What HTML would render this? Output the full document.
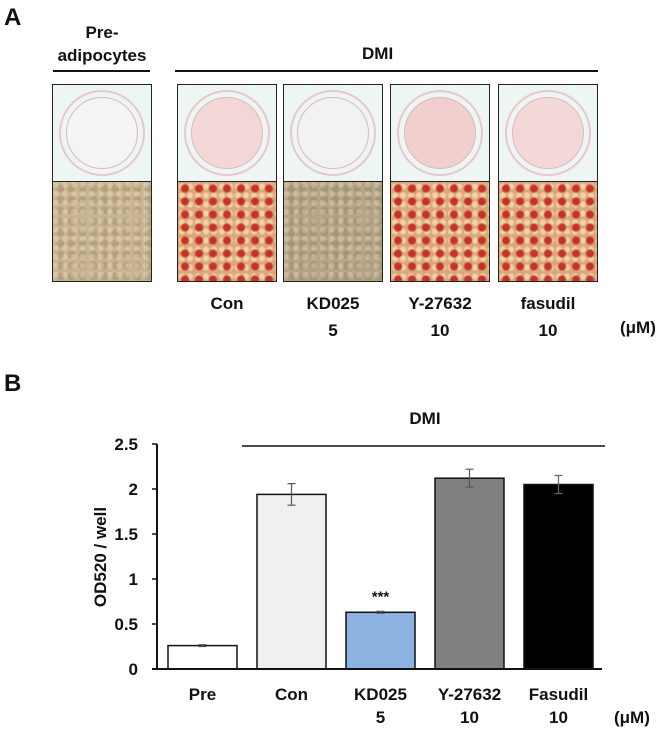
<!DOCTYPE html>
<html><head><meta charset="utf-8"><style>
body{margin:0;width:666px;height:731px;background:#fff;font-family:"Liberation Sans",Arial,sans-serif;font-weight:bold;position:relative;overflow:hidden}
.t{position:absolute;color:#111;white-space:nowrap}
.ph{position:absolute;border:1.5px solid #222;box-sizing:border-box}
.top{background:#eef5f5}
.top .dish{position:absolute;left:6px;top:5px;right:6px;bottom:5px;border-radius:50%;border:2px solid #e8c8c8;box-sizing:border-box}
.top .in{position:absolute;left:13px;top:12px;right:13px;bottom:12px;border-radius:50%;border:1px solid #dcb8b8}
.bot{background:#c9b48e;background-image:radial-gradient(circle at 30% 30%,rgba(255,255,255,.25) 2px,transparent 4px),radial-gradient(circle at 70% 60%,rgba(120,100,70,.25) 3px,transparent 5px);background-size:9px 9px,11px 11px}
.red{background-color:#d9a77a;background-image:radial-gradient(circle,#c83224 3px,transparent 5px),radial-gradient(circle,rgba(255,240,200,.6) 2px,transparent 4px);background-size:14px 13px,8px 9px}
</style></head><body>
<div class="t" style="left:4px;top:4px;font-size:24px">A</div>
<div class="t" style="left:52px;top:21px;width:100px;text-align:center;font-size:17px;line-height:23px">Pre-<br>adipocytes</div>
<div style="position:absolute;left:53px;top:70px;width:97px;height:2px;background:#111"></div>
<div class="t" style="left:362px;top:44px;font-size:17px">DMI</div>
<div style="position:absolute;left:175px;top:70px;width:423px;height:2px;background:#111"></div>

<div class="ph top" style="left:52px;top:84px;width:100px;height:98px"><div class="dish"></div><div class="in" style="background:#f4f3f5"></div></div>
<div class="ph top" style="left:177px;top:84px;width:100px;height:98px"><div class="dish"></div><div class="in" style="background:#f3d6d6"></div></div>
<div class="ph top" style="left:283px;top:84px;width:100px;height:98px"><div class="dish"></div><div class="in" style="background:#f2f2f2"></div></div>
<div class="ph top" style="left:390px;top:84px;width:100px;height:98px"><div class="dish"></div><div class="in" style="background:#f1cfcf"></div></div>
<div class="ph top" style="left:498px;top:84px;width:100px;height:98px"><div class="dish"></div><div class="in" style="background:#f3d8d8"></div></div>

<div class="ph bot" style="left:52px;top:181px;width:100px;height:101px"></div>
<div class="ph red" style="left:177px;top:181px;width:100px;height:101px"></div>
<div class="ph bot" style="left:283px;top:181px;width:100px;height:101px;background-color:#b8a585"></div>
<div class="ph red" style="left:390px;top:181px;width:100px;height:101px"></div>
<div class="ph red" style="left:498px;top:181px;width:100px;height:101px"></div>

<div class="t" style="left:177px;top:290px;width:100px;text-align:center;font-size:17px;line-height:27px">Con</div>
<div class="t" style="left:283px;top:290px;width:100px;text-align:center;font-size:17px;line-height:27px">KD025<br>5</div>
<div class="t" style="left:390px;top:290px;width:100px;text-align:center;font-size:17px;line-height:27px">Y-27632<br>10</div>
<div class="t" style="left:498px;top:290px;width:100px;text-align:center;font-size:17px;line-height:27px">fasudil<br>10</div>
<div class="t" style="left:620px;top:318px;font-size:17px">(μM)</div>

<div class="t" style="left:4px;top:370px;font-size:24px">B</div>
<svg id="chart" width="666" height="731" style="position:absolute;left:0;top:0"></svg>
<script>
const categories=["Pre","Con","KD025","Y-27632","Fasudil"];
const doses=["","","5","10","10"];
const values=[0.26,1.94,0.63,2.12,2.05];
const errors=[0.01,0.12,0.01,0.1,0.1];
const colors=["#ffffff","#f0f0f0","#8db3e2","#808080","#000000"];
const ticks=[0,0.5,1,1.5,2,2.5];
const ns="http://www.w3.org/2000/svg";
const svg=document.getElementById('chart');
const y0=669,ppu=90,x0=157,step=89,bw=69,first=168;
const Y=v=>y0-v*ppu;
const X=i=>first+i*step;
function mk(t,a,p){const e=document.createElementNS(ns,t);for(const k in a)e.setAttribute(k,a[k]);(p||svg).appendChild(e);return e;}
let e;
e=mk('line',{x1:x0,y1:Y(2.5),x2:x0,y2:y0,stroke:'#111','stroke-width':2});


ticks.forEach(t=>{
  e=mk('line',{x1:x0-5,y1:Y(t),x2:x0,y2:Y(t),stroke:'#111','stroke-width':1.5});
  
  
  e=mk('text',{x:138,y:Y(t)+6,'text-anchor':'end','font-size':17,'font-weight':'bold',fill:'#111'});e.textContent=t;
  
  
});
values.forEach((v,i)=>{
  e=mk('rect',{x:X(i),y:Y(v),width:bw,height:y0-Y(v),fill:colors[i],stroke:'#111','stroke-width':1.5});
  
  
  const cx=X(i)+bw/2,ec=i==4?'#666':'#555';
  e=mk('path',{d:`M${cx-4},${Y(v+errors[i])}H${cx+4}M${cx},${Y(v+errors[i])}V${Y(v-errors[i])}M${cx-4},${Y(v-errors[i])}H${cx+4}`,stroke:ec,'stroke-width':1.2,fill:'none'});
  
  
  e=mk('text',{x:cx,y:700,'text-anchor':'middle','font-size':17,'font-weight':'bold',fill:'#111'});e.textContent=categories[i];
  
  
  if(doses[i]){e=mk('text',{x:cx,y:723,'text-anchor':'middle','font-size':17,'font-weight':'bold',fill:'#111'});e.textContent=doses[i];
  
  }
});
e=mk('line',{x1:152,y1:y0,x2:602,y2:y0,stroke:'#111','stroke-width':2});


e=mk('text',{x:X(2)+bw/2,y:Y(values[2]+errors[2])-10,'text-anchor':'middle','font-size':15,'font-weight':'bold',fill:'#111'});e.textContent='***';


e=mk('line',{x1:242,y1:446,x2:605,y2:446,stroke:'#111','stroke-width':1.5});


e=mk('text',{x:425,y:424,'text-anchor':'middle','font-size':17,'font-weight':'bold',fill:'#111'});e.textContent='DMI';


e=mk('text',{x:0,y:0,'text-anchor':'middle','font-size':17,'font-weight':'bold',fill:'#111',transform:'translate(106,557) rotate(-90)'});e.textContent='OD520 / well';


e=mk('text',{x:614,y:723,'font-size':17,'font-weight':'bold',fill:'#111'});e.textContent='(μM)';


</script>
</body></html>
